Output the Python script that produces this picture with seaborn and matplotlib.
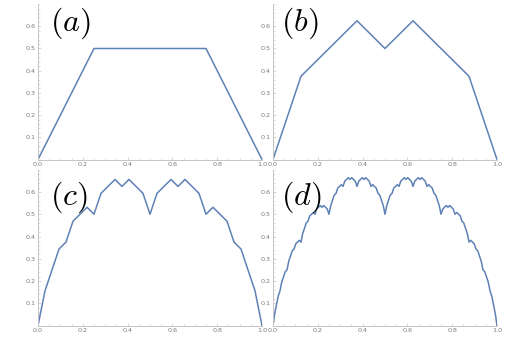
import numpy as np
import pandas as pd
import matplotlib
matplotlib.use("Agg")
import matplotlib.pyplot as plt
import seaborn as sns
from matplotlib.ticker import MultipleLocator, FixedLocator

# ---- data (values in units of 1/denominator, x on a uniform grid of [0,1]) ----
# (a) grid 1/4, values /4
a_vals = [0, 2, 2, 2, 0]
# (b) grid 1/8, values /8
b_vals = [0, 3, 4, 5, 4, 5, 4, 3, 0]
# (c) grid 1/32, values /32
c_vals = [0, 5, 8, 11, 12, 15, 16, 17, 16, 19, 20, 21, 20, 21, 20, 19,
          16, 19, 20, 21, 20, 21, 20, 19, 16, 17, 16, 15, 12, 11, 8, 5, 0]
# (d) grid 1/128, values /128
d_vals = [0, 7, 12, 17, 20, 25, 28, 31,
          32, 37, 40, 43, 44, 47, 48, 49,
          48, 53, 56, 59, 60, 63, 64, 65,
          64, 67, 68, 69, 68, 69, 68, 67,
          64, 69, 72, 75, 76, 79, 80, 81,
          80, 83, 84, 85, 84, 85, 84, 83,
          80, 83, 84, 85, 84, 85, 84, 83,
          80, 81, 80, 79, 76, 75, 72, 69,
          64,
          69, 72, 75, 76, 79, 80, 81, 80,
          83, 84, 85, 84, 85, 84, 83, 80,
          83, 84, 85, 84, 85, 84, 83, 80,
          81, 80, 79, 76, 75, 72, 69, 64,
          67, 68, 69, 68, 69, 68, 67, 64,
          65, 64, 63, 60, 59, 56, 53, 48,
          49, 48, 47, 44, 43, 40, 37, 32,
          31, 28, 25, 20, 17, 12, 7, 0]
panel_labels = ["(a)", "(b)", "(c)", "(d)"]
x_ticks = [0.0, 0.2, 0.4, 0.6, 0.8, 1.0]
y_ticks = [0.1, 0.2, 0.3, 0.4, 0.5, 0.6]

series = [(a_vals, 4), (b_vals, 8), (c_vals, 32), (d_vals, 128)]

sns.set_theme(style="white")
plt.rcParams["mathtext.fontset"] = "cm"
plt.rcParams["font.family"] = ["DejaVu Sans"]

W, H = 530, 340
fig = plt.figure(figsize=(W / 100, H / 100), dpi=100)

line_color = "#5E81B5"
axis_color = "#c4c4c4"
label_color = "#7a7a7a"

# axes boxes in pixels: (left, top_of_axes, right, bottom)
boxes = [(38, 4.1, 262, 159.5), (273, 4.1, 497, 159.5),
         (38, 169.7, 262, 325.6), (273, 169.7, 497, 325.6)]
label_pos = [(50, 23), (281, 23), (50, 197), (281, 197)]

for i, ((vals, den), lab) in enumerate(zip(series, panel_labels)):
    l, t, r, b = boxes[i]
    ax = fig.add_axes([l / W, 1 - b / H, (r - l) / W, (b - t) / H])
    n = len(vals) - 1
    df = pd.DataFrame({"x": np.arange(n + 1) / n, "y": np.array(vals) / den})
    sns.lineplot(data=df, x="x", y="y", ax=ax, color=line_color,
                 linewidth=1.1, estimator=None, sort=False)
    ax.set_xlim(0, 1)
    ax.set_ylim(0, 0.70)
    ax.set_xlabel("")
    ax.set_ylabel("")
    for s in ["top", "right"]:
        ax.spines[s].set_visible(False)
    for s in ["left", "bottom"]:
        ax.spines[s].set_color(axis_color)
        ax.spines[s].set_linewidth(0.7)
    ax.xaxis.set_major_locator(FixedLocator(x_ticks))
    ax.yaxis.set_major_locator(FixedLocator(y_ticks))
    ax.xaxis.set_minor_locator(MultipleLocator(0.05))
    ax.yaxis.set_minor_locator(MultipleLocator(0.02))
    ax.set_xticklabels([f"{v:.1f}" for v in x_ticks])
    ax.set_yticklabels([f"{v:.1f}" for v in y_ticks])
    ax.tick_params(axis="both", which="major", direction="in", length=2.5,
                   width=0.5, color=axis_color, labelsize=4.6,
                   labelcolor=label_color, pad=1.5)
    ax.tick_params(axis="both", which="minor", direction="in", length=1.3,
                   width=0.4, color=axis_color)
    ax.tick_params(axis="x", which="both", bottom=True)
    ax.tick_params(axis="y", which="both", left=True)
    ax.patch.set_alpha(0)
    lx, ly = label_pos[i]
    fig.text(lx / W, 1 - ly / H, r"$" + lab + r"$", fontsize=23,
             ha="left", va="center", color="black")

fig.savefig("out.png", dpi=100)
